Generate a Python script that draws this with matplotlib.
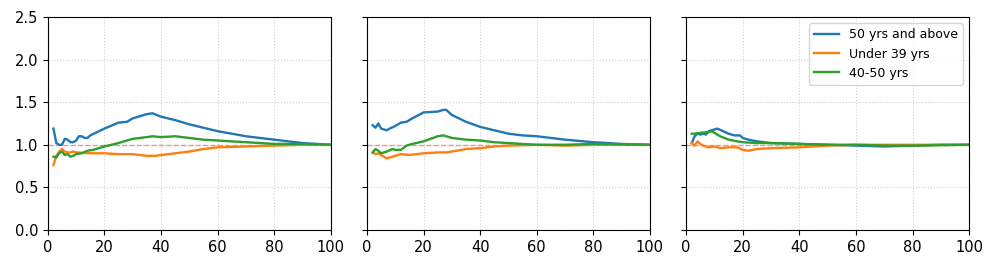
import matplotlib
matplotlib.use("Agg")
import matplotlib.pyplot as plt

labels = ["50 yrs and above", "Under 39 yrs", "40-50 yrs"]

# panel 1
p1_blue_x = [2, 3, 4, 5, 6, 7, 8, 9, 10, 11, 12, 13, 14, 15, 20, 25, 28, 30, 35, 37, 40, 45, 50, 55, 60, 65, 70, 80, 90, 100]
p1_blue_y = [1.19, 1.02, 1.0, 1.0, 1.07, 1.06, 1.03, 1.03, 1.05, 1.10, 1.10, 1.08, 1.08, 1.11, 1.19, 1.26, 1.27, 1.31, 1.36, 1.37, 1.33, 1.29, 1.24, 1.20, 1.16, 1.13, 1.10, 1.06, 1.02, 1.0]
p1_orange_x = [2, 3, 4, 5, 6, 7, 8, 9, 10, 15, 20, 25, 30, 35, 38, 45, 50, 55, 60, 70, 80, 90, 100]
p1_orange_y = [0.76, 0.87, 0.92, 0.95, 0.92, 0.91, 0.91, 0.92, 0.91, 0.90, 0.90, 0.89, 0.89, 0.87, 0.87, 0.90, 0.92, 0.95, 0.97, 0.98, 0.99, 1.0, 1.0]
p1_green_x = [2, 3, 4, 5, 6, 7, 8, 9, 10, 12, 14, 16, 20, 25, 30, 35, 37, 40, 45, 50, 55, 60, 70, 80, 90, 100]
p1_green_y = [0.86, 0.85, 0.90, 0.92, 0.88, 0.89, 0.86, 0.87, 0.89, 0.90, 0.93, 0.94, 0.98, 1.02, 1.07, 1.09, 1.10, 1.09, 1.10, 1.08, 1.06, 1.05, 1.03, 1.01, 1.01, 1.0]

# panel 2
p2_blue_x = [2, 3, 4, 5, 6, 7, 8, 10, 12, 14, 16, 20, 25, 27, 28, 30, 35, 40, 45, 50, 55, 60, 65, 70, 80, 90, 100]
p2_blue_y = [1.23, 1.20, 1.25, 1.19, 1.18, 1.17, 1.19, 1.22, 1.26, 1.27, 1.31, 1.38, 1.39, 1.41, 1.41, 1.35, 1.27, 1.21, 1.17, 1.13, 1.11, 1.10, 1.08, 1.06, 1.03, 1.01, 1.0]
p2_orange_x = [2, 3, 4, 5, 7, 8, 10, 12, 15, 20, 25, 28, 30, 35, 40, 45, 50, 60, 70, 80, 100]
p2_orange_y = [0.91, 0.89, 0.90, 0.88, 0.84, 0.85, 0.87, 0.89, 0.88, 0.90, 0.91, 0.91, 0.92, 0.95, 0.96, 0.98, 0.99, 1.0, 0.99, 1.0, 1.0]
p2_green_x = [2, 3, 4, 5, 7, 9, 10, 12, 14, 16, 20, 25, 27, 30, 35, 40, 45, 50, 60, 70, 80, 100]
p2_green_y = [0.91, 0.95, 0.93, 0.90, 0.92, 0.95, 0.94, 0.94, 0.99, 1.01, 1.04, 1.10, 1.11, 1.08, 1.06, 1.05, 1.03, 1.02, 1.0, 1.0, 1.01, 1.0]

# panel 3
p3_blue_x = [2, 3, 4, 5, 6, 7, 8, 10, 11, 13, 15, 17, 19, 20, 22, 25, 30, 40, 50, 60, 70, 80, 90, 100]
p3_blue_y = [1.02, 1.10, 1.13, 1.12, 1.13, 1.12, 1.16, 1.18, 1.19, 1.16, 1.13, 1.11, 1.11, 1.08, 1.06, 1.04, 1.02, 1.01, 1.0, 0.99, 0.98, 0.99, 1.0, 1.0]
p3_orange_x = [2, 3, 4, 5, 6, 8, 10, 12, 15, 18, 20, 22, 25, 30, 40, 50, 60, 70, 80, 100]
p3_orange_y = [1.02, 0.99, 1.04, 1.01, 0.99, 0.97, 0.98, 0.96, 0.97, 0.97, 0.94, 0.93, 0.95, 0.96, 0.97, 0.99, 1.0, 1.0, 1.0, 1.0]
p3_green_x = [2, 3, 5, 8, 9, 10, 12, 15, 18, 20, 25, 30, 40, 50, 60, 70, 80, 100]
p3_green_y = [1.13, 1.13, 1.14, 1.15, 1.16, 1.14, 1.10, 1.06, 1.04, 1.03, 1.02, 1.02, 1.01, 1.0, 1.0, 0.99, 0.99, 1.0]

panels = [
    [(p1_blue_x, p1_blue_y), (p1_orange_x, p1_orange_y), (p1_green_x, p1_green_y)],
    [(p2_blue_x, p2_blue_y), (p2_orange_x, p2_orange_y), (p2_green_x, p2_green_y)],
    [(p3_blue_x, p3_blue_y), (p3_orange_x, p3_orange_y), (p3_green_x, p3_green_y)],
]
colors = ["#1f77b4", "#ff7f0e", "#2ca02c"]

fig, axes = plt.subplots(1, 3, figsize=(9.96, 2.67), dpi=100, sharey=True)
fig.subplots_adjust(left=0.048, right=0.973, bottom=0.139, top=0.936, wspace=0.128)

for i, ax in enumerate(axes):
    ax.axhline(1.0, color="#f08080", alpha=0.8, linestyle="--", linewidth=1, zorder=1)
    for (x, y), c, lab in zip(panels[i], colors, labels):
        ax.plot(x, y, color=c, linewidth=1.7, label=lab, zorder=2)
    ax.set_xlim(0, 100)
    ax.set_ylim(0, 2.5)
    ax.set_xticks([0, 20, 40, 60, 80, 100])
    ax.set_yticks([0, 0.5, 1.0, 1.5, 2.0, 2.5])
    ax.tick_params(labelsize=10.5)
    ax.grid(True, linestyle=":", color="#d0d0d0", linewidth=0.8)
    ax.set_axisbelow(True)

axes[2].legend(loc="upper right", fontsize=9)

fig.savefig("out.png", dpi=100)
